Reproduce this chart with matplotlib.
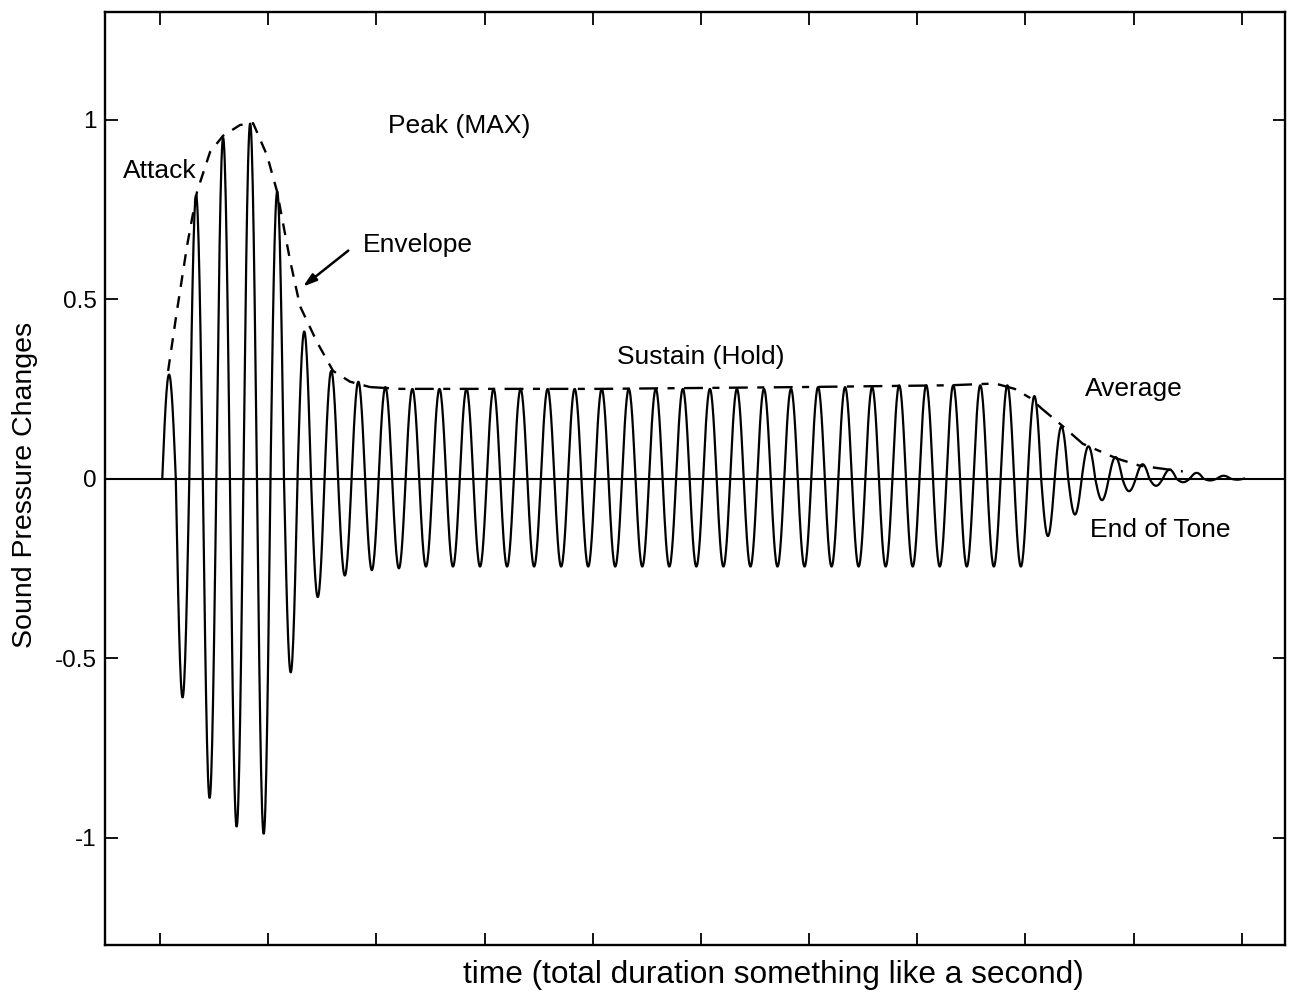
import numpy as np
import matplotlib.pyplot as plt

plt.rcParams['font.family'] = ['Liberation Sans', 'DejaVu Sans']

# carrier: 4 cycles per time unit, starts a little after t=0
PERIOD = 0.25
T_START = 0.02

# height of each positive lobe
peak_amps = [0.29, 0.79, 0.95, 0.99, 0.80, 0.41, 0.30, 0.27, 0.255, 0.25,
             0.25, 0.25, 0.25, 0.25, 0.25, 0.25, 0.25, 0.25, 0.25, 0.25,
             0.25, 0.25, 0.25, 0.25, 0.255, 0.255, 0.255, 0.26, 0.26, 0.26,
             0.26, 0.26, 0.23, 0.145, 0.09, 0.06, 0.04, 0.025, 0.016, 0.008]
# depth of the negative lobe that follows each peak
trough_amps = [-0.61, -0.89, -0.97, -0.99, -0.54, -0.33, -0.27, -0.255, -0.25, -0.245,
               -0.245, -0.245, -0.245, -0.245, -0.245, -0.245, -0.245, -0.245, -0.245, -0.245,
               -0.245, -0.245, -0.245, -0.245, -0.245, -0.245, -0.245, -0.245, -0.245, -0.245,
               -0.245, -0.245, -0.16, -0.10, -0.06, -0.035, -0.02, -0.01, -0.005, -0.003]

# envelope (dashed) traced over the peaks
env_t = [0.074, 0.157, 0.25, 0.342, 0.462, 0.582, 0.739, 0.86, 0.989, 1.081,
         1.20, 1.294, 1.451, 1.599, 1.756, 1.941]
env_v = [0.30, 0.47, 0.65, 0.80, 0.91, 0.955, 0.985, 0.99, 0.90, 0.80,
         0.61, 0.48, 0.38, 0.30, 0.27, 0.255]
env2_t = [1.941, 2.218, 4.067, 5.915, 7.301, 7.72, 7.90, 8.041, 8.15, 8.318,
          8.53, 8.845, 9.057, 9.455]
env2_v = [0.255, 0.25, 0.25, 0.255, 0.26, 0.265, 0.25, 0.225, 0.195, 0.153,
          0.097, 0.056, 0.036, 0.02]

yticks = [-1, -0.5, 0, 0.5, 1]
ytick_labels = ['-1', '-0.5', '0', '0.5', '1']
xticks = list(range(11))

# build the waveform lobe by lobe
lobes = []
for p, q in zip(peak_amps, trough_amps):
    lobes += [p, q]
wave_t, wave_y = [], []
for k, amp in enumerate(lobes):
    tt = T_START + k * PERIOD / 2 + np.linspace(0, PERIOD / 2, 30)
    wave_t.append(tt)
    wave_y.append(abs(amp) * np.sin(2 * np.pi * (tt - T_START) / PERIOD))
wave_t = np.concatenate(wave_t)
wave_y = np.concatenate(wave_y)

fig = plt.figure(figsize=(13.02, 9.93), dpi=100)
ax = fig.add_axes([0.0806, 0.048, 0.9064, 0.94])

ax.axhline(0, color='black', lw=1.5)
ax.plot(wave_t, wave_y, color='black', lw=1.6)
ax.plot(env_t, env_v, color='black', lw=1.7, dashes=(5, 4))
ax.plot(env2_t, env2_v, color='black', lw=1.7, dashes=(8, 4, 3, 4))

ax.set_xlim(-0.51, 10.4)
ax.set_ylim(-1.3, 1.3)
ax.set_xticks(xticks)
ax.set_xticklabels([])
ax.set_yticks(yticks)
ax.set_yticklabels(ytick_labels)
ax.tick_params(direction='in', length=9, width=1.3, top=True, right=True,
               labelsize=17.5, pad=6)
for s in ax.spines.values():
    s.set_linewidth(1.7)

fs = 19
ax.text(-0.51 + 0.17, 0.858, 'Attack', fontsize=fs, va='center')
ax.text(2.107, 0.983, 'Peak (MAX)', fontsize=fs, va='center')
ax.text(1.876, 0.652, 'Envelope', fontsize=fs, va='center')
ax.text(4.224, 0.34, 'Sustain (Hold)', fontsize=fs, va='center')
ax.text(8.549, 0.251, 'Average', fontsize=fs, va='center')
ax.text(8.595, -0.142, 'End of Tone', fontsize=fs, va='center')
ax.annotate('', xy=(1.30, 0.53), xytext=(1.76, 0.64),
            arrowprops=dict(arrowstyle='-|>,head_length=0.8,head_width=0.25',
                            color='black', lw=1.8))

fig.text(0.594, 0.018, 'time (total duration something like a second)',
         fontsize=22.8, ha='center', va='center')
fig.text(0.019, 0.512, 'Sound Pressure Changes', fontsize=20.5,
         rotation=90, ha='center', va='center')

fig.savefig('out.png', dpi=100)
